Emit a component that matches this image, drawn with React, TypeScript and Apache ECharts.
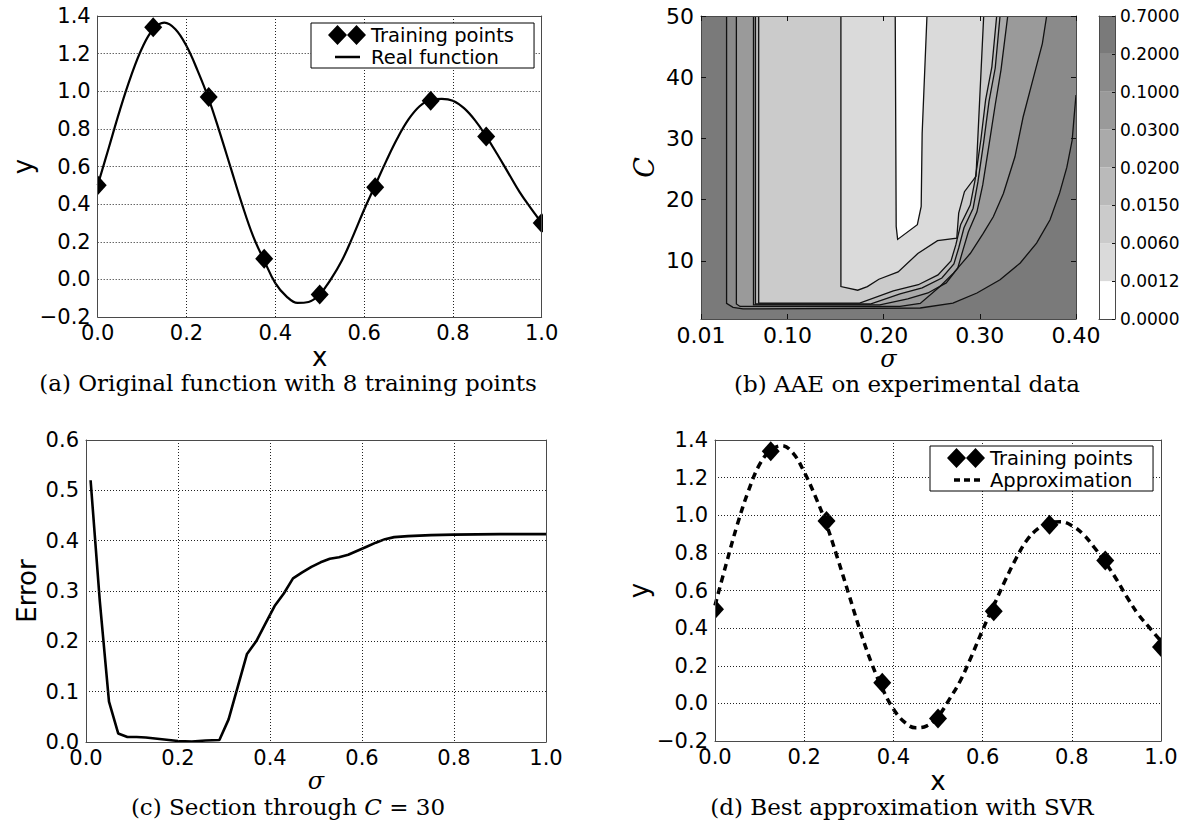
import React, { useEffect, useRef } from 'react';
import * as echarts from 'echarts';

// ---------- data ----------
// (a) and (d): training points
const trainX = [0.0, 0.125, 0.25, 0.375, 0.5, 0.625, 0.75, 0.875, 1.0];
const trainY = [0.5, 1.34, 0.97, 0.11, -0.08, 0.49, 0.95, 0.76, 0.3];

// (a) real function and (d) SVR approximation, sampled on x
const curveX = [
  0.0, 0.025, 0.05, 0.075, 0.1, 0.125, 0.15, 0.175, 0.2, 0.225, 0.25, 0.275, 0.3, 0.325,
  0.35, 0.375, 0.4, 0.425, 0.45, 0.475, 0.5, 0.525, 0.55, 0.575, 0.6, 0.625, 0.65, 0.675,
  0.7, 0.725, 0.75, 0.775, 0.8, 0.825, 0.85, 0.875, 0.9, 0.925, 0.95, 0.975, 1.0,
];
const realY = [
  0.5, 0.7, 0.9, 1.08, 1.23, 1.33, 1.365, 1.33, 1.24, 1.11, 0.96, 0.78, 0.59, 0.4,
  0.23, 0.1, -0.02, -0.09, -0.125, -0.12, -0.08, 0.0, 0.1, 0.23, 0.37, 0.5, 0.63, 0.75,
  0.85, 0.92, 0.955, 0.96, 0.95, 0.91, 0.845, 0.76, 0.665, 0.565, 0.465, 0.38, 0.3,
];
const approxY = [
  0.52, 0.74, 0.95, 1.13, 1.27, 1.345, 1.37, 1.33, 1.23, 1.1, 0.95, 0.77, 0.58, 0.39,
  0.22, 0.08, -0.03, -0.1, -0.13, -0.12, -0.07, 0.02, 0.12, 0.25, 0.39, 0.52, 0.65, 0.77,
  0.87, 0.93, 0.96, 0.965, 0.945, 0.9, 0.83, 0.75, 0.66, 0.56, 0.47, 0.4, 0.33,
];

// (c) section through C = 30
const sigmaX = [
  0.01, 0.03, 0.05, 0.07, 0.09, 0.11, 0.13, 0.15, 0.17, 0.2, 0.23, 0.26, 0.29, 0.31, 0.33,
  0.35, 0.37, 0.39, 0.41, 0.43, 0.45, 0.47, 0.49, 0.51, 0.53, 0.55, 0.57, 0.59, 0.61, 0.63,
  0.65, 0.67, 0.7, 0.75, 0.8, 0.9, 1.0,
];
const errorY = [
  0.52, 0.28, 0.08, 0.017, 0.01, 0.01, 0.009, 0.007, 0.005, 0.002, 0.001, 0.003, 0.004, 0.045, 0.11,
  0.175, 0.2, 0.235, 0.27, 0.295, 0.325, 0.337, 0.348, 0.357, 0.364, 0.367, 0.372, 0.38, 0.388, 0.396,
  0.403, 0.407, 0.409, 0.411, 0.412, 0.413, 0.413,
];

// (b) contour map: AAE over sigma x C
const sigmaRange = [0.01, 0.4];
const cRange = [0.5, 50];
const sigmaTicks = [0.01, 0.1, 0.2, 0.3, 0.4];
const cTicks = [10, 20, 30, 40, 50];
const colorbarValues = [0, 0.0012, 0.006, 0.015, 0.02, 0.03, 0.1, 0.2, 0.7];
const colorbarLabels = ['0.0000', '0.0012', '0.0060', '0.0150', '0.0200', '0.0300', '0.1000', '0.2000', '0.7000'];
const contourLevels = [0.2, 0.1, 0.03, 0.02, 0.015, 0.006, 0.0012];
// contour lines, as [sigma, C], from top-left around to top/right edge
const contour0p2 = [
  [0.0366, 50], [0.0366, 3.05], [0.0433, 2.4], [0.0537, 2.15], [0.238, 2.3], [0.272, 3.1],
  [0.297, 4.75], [0.321, 6.9], [0.342, 9.65], [0.359, 12.9], [0.373, 16.7], [0.383, 21.1],
  [0.3905, 25.3], [0.396, 29.7], [0.398, 33.5], [0.4, 37.1],
];
const contour0p1 = [
  [0.0468, 50], [0.0468, 2.95], [0.0506, 2.55], [0.217, 2.55], [0.238, 3.05], [0.2585, 5.8],
  [0.2725, 8.0], [0.29, 11.2], [0.3035, 14.5], [0.314, 17.2], [0.3245, 21.0], [0.3365, 27.0],
  [0.345, 33.5], [0.356, 40.1], [0.365, 45.5], [0.3695, 50],
];
const contour0p03 = [
  [0.0646, 50], [0.0646, 2.8], [0.196, 2.8], [0.225, 3.8], [0.246, 4.75], [0.265, 6.4],
  [0.277, 8.8], [0.2825, 11.8], [0.288, 14.7], [0.297, 18.0], [0.303, 22.4], [0.3095, 28.9],
  [0.316, 35.5], [0.322, 41.2], [0.329, 50],
];
const contour0p02 = [
  [0.0666, 50], [0.0666, 2.95], [0.186, 2.95], [0.217, 4.6], [0.24, 5.6], [0.2605, 7.2],
  [0.273, 9.5], [0.278, 12.1], [0.2835, 15.4], [0.293, 18.6], [0.298, 22.9], [0.304, 29.4],
  [0.3095, 36.0], [0.316, 41.5], [0.321, 50],
];
const contour0p015 = [
  [0.07, 50], [0.07, 3.1], [0.175, 3.1], [0.21, 5.1], [0.236, 6.1], [0.2565, 7.7],
  [0.27, 10.0], [0.275, 12.6], [0.28, 15.9], [0.29, 19.1], [0.295, 23.2], [0.301, 29.7],
  [0.306, 36.3], [0.3125, 41.7], [0.3175, 50],
];
const contour0p006 = [
  [0.1555, 50], [0.1555, 5.8], [0.173, 5.2], [0.183, 5.8], [0.195, 7.0], [0.215, 8.2],
  [0.2355, 11.2], [0.256, 13.3], [0.276, 13.7], [0.278, 17.8], [0.284, 21.3], [0.296, 23.8],
  [0.304, 50],
];
const contour0p0012 = [
  [0.212, 50], [0.213, 15.6], [0.2145, 13.5], [0.235, 15.9], [0.239, 18.9], [0.24, 30.8], [0.245, 50],
];
const contourLines = [contour0p2, contour0p1, contour0p03, contour0p02, contour0p015, contour0p006, contour0p0012];

// ---------- styles ----------
const FONT = 'DejaVu Sans';
const SERIF = 'DejaVu Serif';
const FRAME = '#4a4a4a';
const DOT = { color: '#222', width: 1, type: [1, 2] };
const bandColors = ['#ffffff', '#dadada', '#cbcbcb', '#bababa', '#aaaaaa', '#9a9a9a', '#8a8a8a', '#7a7a7a'];
// legend icons (38 x 20 box; tiny corner specks fix the bounding box)
const CORNERS = 'M0,0 L0.01,0 L0,0.01 Z M38,20 L37.99,20 L38,19.99 Z';
const DIAMONDS = 'path://M0,10 L9.5,0 L19,10 L9.5,20 Z M19,10 L28.5,0 L38,10 L28.5,20 Z';
const SOLID_ICON = 'path://' + CORNERS + ' M7,8.8 L32,8.8 L32,11.2 L7,11.2 Z';
const DASH_ICON = 'path://' + CORNERS + ' M7,8.2 L13,8.2 L13,11.8 L7,11.8 Z M17,8.2 L23,8.2 L23,11.8 L17,11.8 Z M27,8.2 L33,8.2 L33,11.8 L27,11.8 Z';

const fmt1 = (v: number) => {
  const s = (Math.round(v * 10) / 10).toFixed(1);
  return s === '-0.0' ? '0.0' : s.replace('-', '\u2212');
};

function buildOption() {
  const xAxis: any[] = [];
  const yAxis: any[] = [];

  const addAxes = (g: number, c: any) => {
    const line = { show: true, onZero: false, lineStyle: { color: FRAME, width: 1 } };
    const tick = (custom?: number[]) =>
      c.ticks
        ? { show: true, inside: true, length: c.tickLen || 5, lineStyle: { color: '#111', width: 1 }, customValues: custom }
        : { show: false };
    const split = c.dotted
      ? { show: true, showMinLine: false, showMaxLine: false, lineStyle: DOT }
      : { show: false };
    const xi = xAxis.length;
    const yi = yAxis.length;
    const xBase: any = { type: 'value', gridIndex: g, min: c.x[0], max: c.x[1], z: 5, axisLine: line };
    if (c.xint) xBase.interval = c.xint;
    const yBase: any = { type: 'value', gridIndex: g, min: c.y[0], max: c.y[1], z: 5, axisLine: line };
    if (c.yint) yBase.interval = c.yint;
    const label = (fmt: any, custom: any, margin: number, fs: number) => {
      if (!fmt) return { show: false };
      const o: any = { color: '#000', fontFamily: FONT, fontSize: fs, margin, formatter: fmt };
      if (custom) o.customValues = custom;
      return o;
    };
    xAxis.push({
      ...xBase, position: 'bottom', axisTick: c.ySide === 'right' ? { show: false } : tick(c.xCustom), splitLine: split,
      axisLabel: label(c.xfmt, c.xCustom, 5, c.fs),
      name: c.xname, nameLocation: 'middle', nameGap: c.xgap, nameTextStyle: c.xns,
    });
    xAxis.push({ ...xBase, position: 'top', axisTick: c.ySide === 'right' ? { show: false } : tick(c.xCustom), splitLine: { show: false }, axisLabel: { show: false } });
    const yLeftLabel = c.ySide === 'right' ? null : c.yfmt;
    const yRightLabel = c.ySide === 'right' ? c.yfmt : null;
    yAxis.push({
      ...yBase, position: 'left', axisTick: c.ySide === 'right' ? { show: false } : tick(c.yCustom), splitLine: split,
      axisLabel: label(yLeftLabel, c.yCustom, 7, c.fs),
      name: c.yname, nameLocation: 'middle', nameGap: c.ygap, nameTextStyle: c.yns,
    });
    yAxis.push({
      ...yBase, position: 'right', axisTick: tick(c.yCustom), splitLine: { show: false },
      axisLabel: label(yRightLabel, c.yCustom, 5, c.yfs || c.fs),
    });
    return [xi, yi];
  };

  const nameSans = { fontFamily: FONT, fontSize: 26, color: '#000' };
  const nameMath = { fontFamily: SERIF, fontStyle: 'italic', fontSize: 24, color: '#000' };

  const [ax, ay] = addAxes(0, {
    x: [0, 1], xint: 0.2, y: [-0.2, 1.4], yint: 0.2, xfmt: fmt1, yfmt: fmt1, fs: 21, dotted: true,
    xname: 'x', xgap: 16, xns: nameSans, yname: 'y', ygap: 62, yns: nameSans,
  });
  const [bx, by] = addAxes(1, {
    x: sigmaRange, y: cRange, xCustom: sigmaTicks, yCustom: cTicks, ticks: true, fs: 22,
    xfmt: (v: number) => v.toFixed(2), yfmt: (v: number) => String(v),
    xname: '\u03c3', xgap: 16, xns: nameMath, yname: 'C', ygap: 43, yns: { ...nameMath, fontSize: 27 },
  });
  const [cbx, cby] = addAxes(2, {
    x: [0, 1], y: [0, colorbarValues.length - 1], yint: 1, ySide: 'right', fs: 17, yfs: 17,
    ticks: true, tickLen: 3,
    yfmt: (v: number) => colorbarLabels[Math.round(v)],
  });
  const [cx, cy] = addAxes(3, {
    x: [0, 1], xint: 0.2, y: [0, 0.6], yint: 0.1, xfmt: fmt1, yfmt: fmt1, fs: 21, dotted: true,
    xname: '\u03c3', xgap: 17, xns: nameMath, yname: 'Error', ygap: 46, yns: nameSans,
  });
  const [dx, dy] = addAxes(4, {
    x: [0, 1], xint: 0.2, y: [-0.2, 1.4], yint: 0.2, xfmt: fmt1, yfmt: fmt1, fs: 21, dotted: true,
    xname: 'x', xgap: 16, xns: nameSans, yname: 'y', ygap: 63, yns: nameSans,
  });

  const diamondSeries = (xi: number, yi: number) => ({
    type: 'custom', name: 'Training points', xAxisIndex: xi, yAxisIndex: yi, clip: true, z: 3,
    itemStyle: { color: '#000' },
    data: trainX.map((x, i) => [x, trainY[i]]),
    renderItem: (params: any, api: any) => {
      const p = api.coord([api.value(0), api.value(1)]);
      return {
        type: 'polygon',
        shape: { points: [[p[0], p[1] - 10], [p[0] + 9, p[1]], [p[0], p[1] + 10], [p[0] - 9, p[1]]] },
        style: { fill: '#000' },
      };
    },
  });

  const levelFill = (lv: number) => bandColors[colorbarValues.indexOf(lv) - 1];

  const series: any[] = [
    {
      type: 'line', name: 'Real function', xAxisIndex: ax, yAxisIndex: ay, smooth: 0.4,
      symbol: 'none', data: curveX.map((x, i) => [x, realY[i]]),
      lineStyle: { color: '#000', width: 2.2 }, itemStyle: { color: '#000' }, z: 2,
    },
    diamondSeries(ax, ay),
    {
      type: 'custom', xAxisIndex: bx, yAxisIndex: by, clip: true, silent: true, z: 2,
      data: contourLines.map((pts) => pts[0]),
      renderItem: (params: any, api: any) => {
        const i = params.dataIndex;
        const pts = contourLines[i];
        const poly = pts.map((p) => api.coord(p));
        const last = pts[pts.length - 1];
        poly.push(api.coord([last[0], cRange[1]]));
        return { type: 'polygon', shape: { points: poly }, style: { fill: levelFill(contourLevels[i]) } };
      },
    },
    {
      type: 'custom', xAxisIndex: bx, yAxisIndex: by, clip: true, silent: true, z: 3,
      data: contourLines.map((pts) => pts[0]),
      renderItem: (params: any, api: any) => {
        const pts = contourLines[params.dataIndex];
        return {
          type: 'polyline',
          shape: { points: pts.map((p) => api.coord(p)) },
          style: { stroke: '#111', lineWidth: 1.3, fill: 'none' },
        };
      },
    },
    {
      type: 'custom', xAxisIndex: cbx, yAxisIndex: cby, clip: true, silent: true, z: 2,
      data: bandColors.map((_, i) => [0, i]),
      renderItem: (params: any, api: any) => {
        const i = params.dataIndex;
        const p0 = api.coord([0, i]);
        const p1 = api.coord([1, i + 1]);
        return {
          type: 'rect',
          shape: { x: p0[0], y: p1[1], width: p1[0] - p0[0], height: p0[1] - p1[1] },
          style: { fill: bandColors[i] },
        };
      },
    },
    {
      type: 'line', name: 'Error', xAxisIndex: cx, yAxisIndex: cy, symbol: 'none',
      data: sigmaX.map((x, i) => [x, errorY[i]]),
      lineStyle: { color: '#000', width: 2.6 }, z: 2,
    },
    {
      type: 'line', name: 'Approximation', xAxisIndex: dx, yAxisIndex: dy, smooth: 0.4,
      symbol: 'none', data: curveX.map((x, i) => [x, approxY[i]]),
      lineStyle: { color: '#000', width: 3.5, type: [7, 5] }, itemStyle: { color: '#000' }, z: 2,
    },
    diamondSeries(dx, dy),
  ];

  const legendBase = {
    orient: 'vertical', itemWidth: 38, itemHeight: 20, itemGap: 2, z: 12,
    borderColor: '#000', borderWidth: 1, borderRadius: 0, backgroundColor: '#fff',
    textStyle: { fontFamily: FONT, fontSize: 19.5, color: '#000' }, selectedMode: false,
    padding: [2, 20, 1, 17],
  };

  const caption = (text: string, x: number, y: number) => ({
    type: 'text', x, y, z: 20,
    style: {
      text, fill: '#000', fontFamily: SERIF, fontSize: 23,
      align: 'center', verticalAlign: 'middle', textAlign: 'center', textVerticalAlign: 'middle',
      rich: { i: { fontFamily: SERIF, fontStyle: 'italic', fontSize: 23, fill: '#000' } },
    },
  });

  return {
    animation: false,
    backgroundColor: '#fff',
    grid: [
      { left: 97.7, top: 16, width: 444, height: 301 },
      { left: 701, top: 16, width: 375, height: 303, show: true, backgroundColor: bandColors[bandColors.length - 1], borderWidth: 0 },
      { left: 1099, top: 16, width: 16, height: 303 },
      { left: 86, top: 440, width: 460, height: 302 },
      { left: 715, top: 440, width: 446, height: 301 },
    ],
    xAxis,
    yAxis,
    legend: [
      { ...legendBase, left: 311, top: 23, data: [{ name: 'Training points', icon: DIAMONDS }, { name: 'Real function', icon: SOLID_ICON }] },
      { ...legendBase, left: 930, top: 446, data: [{ name: 'Training points', icon: DIAMONDS }, { name: 'Approximation', icon: DASH_ICON }] },
    ],
    series,
    graphic: [
      caption('(a) Original function with 8 training points', 288, 383),
      caption('(b) AAE on experimental data', 907, 384),
      caption('(c) Section through {i|C} = 30', 288, 807),
      caption('(d) Best approximation with SVR', 902, 807),
    ],
  };
}

export default function App() {
  const ref = useRef<HTMLDivElement>(null);
  useEffect(() => {
    const chart = echarts.init(ref.current as HTMLDivElement, null, { renderer: 'svg' });
    chart.setOption(buildOption() as any);
    return () => chart.dispose();
  }, []);
  return (
    <div
      ref={ref}
      style={{ position: 'absolute', left: 0, top: 0, width: 1188, height: 823, background: '#fff' }}
    />
  );
}
